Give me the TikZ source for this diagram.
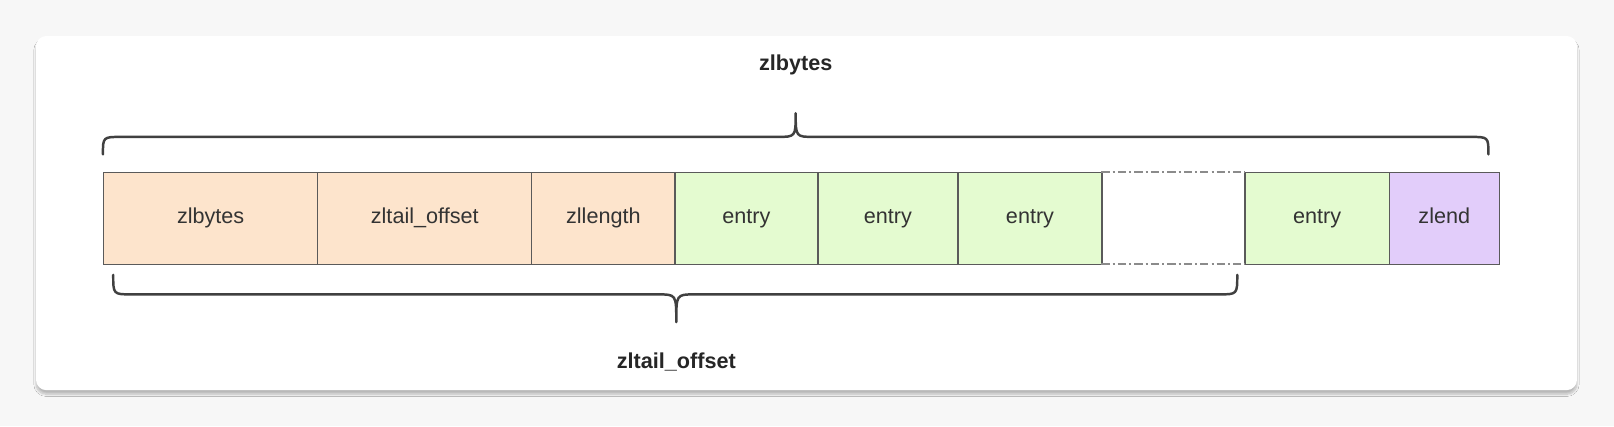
\documentclass[tikz,border=0pt]{standalone}
\usepackage{fontspec}
\setmainfont{Liberation Sans}
\usetikzlibrary{shadows.blur}
\definecolor{orf}{HTML}{FDE4CC}
\definecolor{grf}{HTML}{E4FBD0}
\definecolor{puf}{HTML}{E2CDFA}
\definecolor{edge}{HTML}{5A5A5A}
\begin{document}
\begin{tikzpicture}[x=1pt,y=-1pt,
  cell/.style={draw=edge,line width=1.3pt,minimum height=89pt,anchor=north west,inner sep=0pt,text height=15pt,text depth=5pt,font=\fontsize{21}{24}\selectfont,text=black!80},
  brace/.style={draw=black!75,line width=2.4pt,line cap=round,line join=round},
  lbl/.style={font=\bfseries\fontsize{21}{24}\selectfont,text=black!85}]
\fill[black!3] (0,0) rectangle (1568,414);
\useasboundingbox (0,0) rectangle (1568,414);
\fill[white,rounded corners=10pt,blur shadow={shadow blur steps=10,shadow xshift=0pt,shadow yshift=-4pt,shadow opacity=25}] (35,35) rectangle (1532,379);
\foreach \n/\a/\b/\c/\t in {c1/100/308/orf/zlbytes,c2/308/516/orf/zltail\_offset,c3/516/655/orf/zllength,c4/655/794/grf/entry,c5/794/930/grf/entry,c6/930/1070/grf/entry,c8/1209/1349/grf/entry,c9/1349/1456/puf/zlend}
  \node[cell,fill=\c,minimum width={\b-\a}] (\n) at (\a,167) {\t};
\node[minimum width=139pt,minimum height=89pt,anchor=north west,inner sep=0pt] (c7) at (1070,167) {};
\draw[edge!70,line width=1.3pt,dash pattern=on 8pt off 3pt on 2pt off 3pt] (c7.north west) -- (c7.north east) (c7.south west) -- (c7.south east);
% top brace
\draw[brace] (100,150) .. controls (100,133) .. (118,133) -- (755,133) .. controls (773,133) .. (773,110) .. controls (773,133) .. (791,133) -- (1428,133) .. controls (1446,133) .. (1446,150);
\node[lbl] (top) at (773,63) {zlbytes};
% bottom brace
\draw[brace] (110,267) .. controls (110,286) .. (128,286) -- (639,286) .. controls (657,286) .. (657,313) .. controls (657,286) .. (675,286) -- (1184,286) .. controls (1202,286) .. (1202,267);
\node[lbl] (bot) at (657,352) {zltail\_offset};
\end{tikzpicture}
\end{document}
